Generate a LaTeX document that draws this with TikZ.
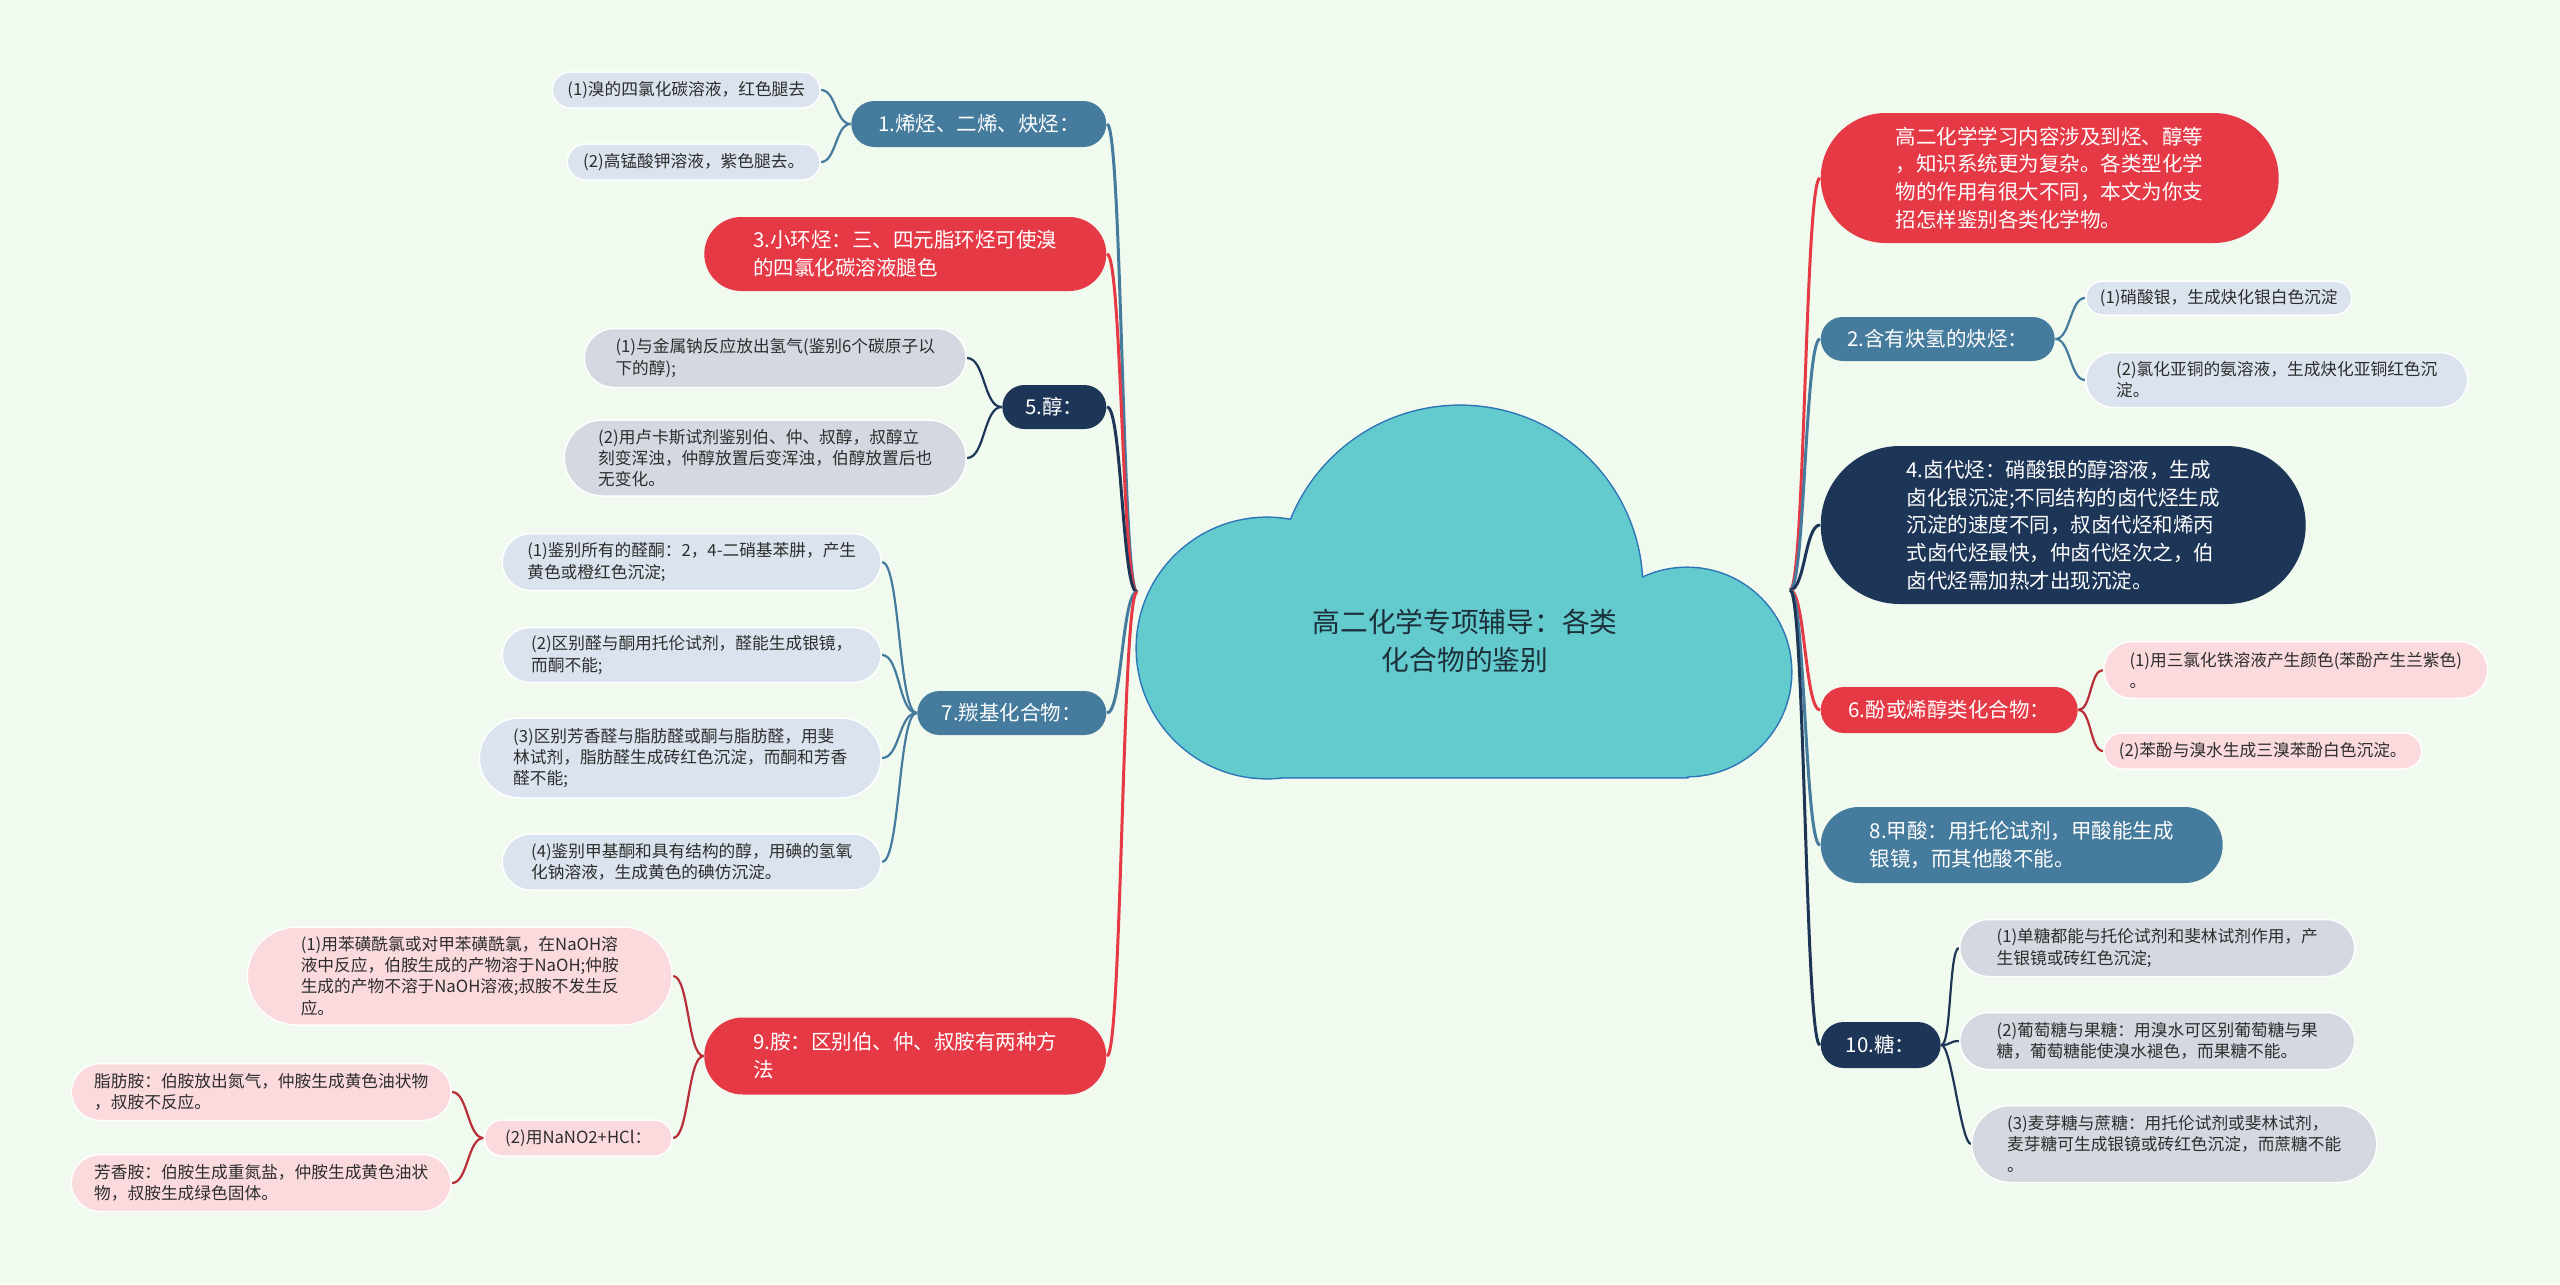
\documentclass[tikz,border=0pt]{standalone}
\usepackage{fontspec}
\newfontfamily\hxcjk{Noto Sans CJK SC}
\usetikzlibrary{calc,backgrounds}
\definecolor{hxbg}{RGB}{241,250,238}
\definecolor{hxcloud}{RGB}{99,202,206}
\definecolor{hxrim}{RGB}{46,117,182}
\definecolor{hxred}{RGB}{230,57,70}
\definecolor{hxblu}{RGB}{69,123,157}
\definecolor{hxnav}{RGB}{29,53,87}
\definecolor{hxlb}{RGB}{219,228,238}
\definecolor{hxlg}{RGB}{212,216,224}
\definecolor{hxlp}{RGB}{251,218,222}
\definecolor{hxtxt}{RGB}{45,45,45}
\definecolor{hxdark}{RGB}{28,48,58}
\newcommand\hxsmall{\hxcjk\fontsize{4.75}{6}\selectfont}
\newcommand\hxmid{\hxcjk\fontsize{5.83}{7.9}\selectfont}
\newcommand\hxbig{\hxcjk\fontsize{7.88}{10.8}\selectfont}
\tikzset{
  hxnode/.style={align=left, inner sep=0pt},
  sz/.style 2 args={minimum width=#1*0.01cm, minimum height=#2*0.01cm, rounded corners=#2*0.005cm},
  topic/.style={hxnode, fill=#1, text=white, font=\hxmid},
  leaf/.style={hxnode, fill=#1, draw=white, line width=0.015cm, text=hxtxt, font=\hxsmall},
  trunk/.style={draw=#1, line width=0.03cm},
  twig/.style={draw=#1, line width=0.022cm},
  sway/.style={to path={.. controls ($(\tikztostart)+(#1,0)$) and ($(\tikztotarget)-(#1,0)$) .. (\tikztotarget)}}
}
\begin{document}
\begin{tikzpicture}[x=0.01cm, y=-0.01cm]
  \useasboundingbox (0,0) rectangle (2560,1284);
  \draw[hxrim, line width=0.03cm] (1267,648) circle[radius=1.3cm] (1460,588) circle[radius=1.82cm]
    (1687,672) circle[radius=1.04cm] (1267,620) rectangle (1687,777);
  \fill[hxcloud] (1267,648) circle[radius=1.3cm] (1460,588) circle[radius=1.82cm]
    (1687,672) circle[radius=1.04cm] (1267,620) rectangle (1687,777);
  \node[font=\hxbig, text=hxdark, align=center] (hub) at (1465,641) {高二化学专项辅导：各类\\化合物的鉴别};
  \coordinate (L) at (1137,592);
  \coordinate (R) at (1790,590);

  \node[topic=hxblu, sz={255}{46}, anchor=east] (n1) at (1107,124) {1.烯烃、二烯、炔烃：};
  \node[topic=hxred, sz={402}{74}, anchor=east] (n3) at (1107,254) {3.小环烃：三、四元脂环烃可使溴\\的四氯化碳溶液腿色};
  \node[topic=hxnav, sz={104}{44}, anchor=east] (n5) at (1107,407) {5.醇：};
  \node[topic=hxblu, sz={189}{44}, anchor=east] (n7) at (1107,713) {7.羰基化合物：};
  \node[topic=hxred, sz={402}{77}, anchor=east] (n9) at (1107,1056) {9.胺：区别伯、仲、叔胺有两种方\\法};

  \node[leaf=hxlb, sz={268}{36}, anchor=east] (n1a) at (821,90) {(1)溴的四氯化碳溶液，红色腿去};
  \node[leaf=hxlb, sz={253}{36}, anchor=east] (n1b) at (821,162) {(2)高锰酸钾溶液，紫色腿去。};
  \node[leaf=hxlg, sz={382}{59}, anchor=east] (n5a) at (967,358) {(1)与金属钠反应放出氢气(鉴别6个碳原子以\\下的醇);};
  \node[leaf=hxlg, sz={402}{76}, anchor=east] (n5b) at (967,458) {(2)用卢卡斯试剂鉴别伯、仲、叔醇，叔醇立\\刻变浑浊，仲醇放置后变浑浊，伯醇放置后也\\无变化。};
  \node[leaf=hxlb, sz={379}{57}, anchor=east] (n7a) at (882,562) {(1)鉴别所有的醛酮：2，4-二硝基苯肼，产生\\黄色或橙红色沉淀;};
  \node[leaf=hxlb, sz={379}{55}, anchor=east] (n7b) at (882,655) {(2)区别醛与酮用托伦试剂，醛能生成银镜，\\而酮不能;};
  \node[leaf=hxlb, sz={402}{80}, anchor=east] (n7c) at (882,758) {(3)区别芳香醛与脂肪醛或酮与脂肪醛，用斐\\林试剂，脂肪醛生成砖红色沉淀，而酮和芳香\\醛不能;};
  \node[leaf=hxlb, sz={379}{56}, anchor=east] (n7d) at (882,862) {(4)鉴别甲基酮和具有结构的醇，用碘的氢氧\\化钠溶液，生成黄色的碘仿沉淀。};
  \node[leaf=hxlp, sz={425}{98}, anchor=east] (n9a) at (673,976) {(1)用苯磺酰氯或对甲苯磺酰氯，在NaOH溶\\液中反应，伯胺生成的产物溶于NaOH;仲胺\\生成的产物不溶于NaOH溶液;叔胺不发生反\\应。};
  \node[leaf=hxlp, sz={188}{36}, anchor=east] (n9b) at (673,1138) {(2)用NaNO2+HCl：};
  \node[leaf=hxlp, sz={380}{57}, anchor=east] (n9c) at (452,1092) {脂肪胺：伯胺放出氮气，仲胺生成黄色油状物\\，叔胺不反应。};
  \node[leaf=hxlp, sz={380}{57}, anchor=east] (n9d) at (452,1183) {芳香胺：伯胺生成重氮盐，仲胺生成黄色油状\\物，叔胺生成绿色固体。};

  \node[topic=hxred, sz={458}{130}, anchor=west] (r0) at (1820,178) {高二化学学习内容涉及到烃、醇等\\，知识系统更为复杂。各类型化学\\物的作用有很大不同，本文为你支\\招怎样鉴别各类化学物。};
  \node[topic=hxblu, sz={234}{44}, anchor=west] (r2) at (1820,339) {2.含有炔氢的炔烃：};
  \node[topic=hxnav, sz={485}{158}, anchor=west] (r4) at (1820,525) {4.卤代烃：硝酸银的醇溶液，生成\\卤化银沉淀;不同结构的卤代烃生成\\沉淀的速度不同，叔卤代烃和烯丙\\式卤代烃最快，仲卤代烃次之，伯\\卤代烃需加热才出现沉淀。};
  \node[topic=hxred, sz={257}{46}, anchor=west] (r6) at (1820,710) {6.酚或烯醇类化合物：};
  \node[topic=hxblu, sz={402}{76}, anchor=west] (r8) at (1820,845) {8.甲酸：用托伦试剂，甲酸能生成\\银镜，而其他酸不能。};
  \node[topic=hxnav, sz={120}{46}, anchor=west] (r10) at (1820,1045) {10.糖：};

  \node[leaf=hxlb, sz={266}{34}, anchor=west] (r2a) at (2085,298) {(1)硝酸银，生成炔化银白色沉淀};
  \node[leaf=hxlb, sz={382}{55}, anchor=west] (r2b) at (2085,380) {(2)氯化亚铜的氨溶液，生成炔化亚铜红色沉\\淀。};
  \node[leaf=hxlp, sz={384}{57}, anchor=west] (r6a) at (2103,670) {(1)用三氯化铁溶液产生颜色(苯酚产生兰紫色)\\。};
  \node[leaf=hxlp, sz={318}{36}, anchor=west] (r6b) at (2103,751) {(2)苯酚与溴水生成三溴苯酚白色沉淀。};
  \node[leaf=hxlg, sz={395}{57}, anchor=west] (r10a) at (1959,948) {(1)单糖都能与托伦试剂和斐林试剂作用，产\\生银镜或砖红色沉淀;};
  \node[leaf=hxlg, sz={395}{57}, anchor=west] (r10b) at (1959,1041) {(2)葡萄糖与果糖：用溴水可区别葡萄糖与果\\糖，葡萄糖能使溴水褪色，而果糖不能。};
  \node[leaf=hxlg, sz={405}{77}, anchor=west] (r10c) at (1971,1144) {(3)麦芽糖与蔗糖：用托伦试剂或斐林试剂，\\麦芽糖可生成银镜或砖红色沉淀，而蔗糖不能\\。};

  \begin{scope}[on background layer]
    \fill[hxbg] (0,0) rectangle (2560,1284);
    \draw[trunk=hxblu, sway=-15] (L) to (n1.east);
    \draw[trunk=hxred, sway=-15] (L) to (n3.east);
    \draw[trunk=hxnav, sway=-15] (L) to (n5.east);
    \draw[trunk=hxblu, sway=-15] (L) to (n7.east);
    \draw[trunk=hxred, sway=-15] (L) to (n9.east);
    \draw[trunk=hxred, sway=15] (R) to (r0.west);
    \draw[trunk=hxblu, sway=15] (R) to (r2.west);
    \draw[trunk=hxnav, sway=15] (R) to (r4.west);
    \draw[trunk=hxred, sway=15] (R) to (r6.west);
    \draw[trunk=hxblu, sway=15] (R) to (r8.west);
    \draw[trunk=hxnav, sway=15] (R) to (r10.west);
    \draw[twig=hxblu, sway=-15] (n1.west) to (n1a.east);
    \draw[twig=hxblu, sway=-15] (n1.west) to (n1b.east);
    \draw[twig=hxnav, sway=-18] (n5.west) to (n5a.east);
    \draw[twig=hxnav, sway=-18] (n5.west) to (n5b.east);
    \draw[twig=hxblu, sway=-18] (n7.west) to (n7a.east);
    \draw[twig=hxblu, sway=-18] (n7.west) to (n7b.east);
    \draw[twig=hxblu, sway=-18] (n7.west) to (n7c.east);
    \draw[twig=hxblu, sway=-18] (n7.west) to (n7d.east);
    \draw[twig=hxred!80!black, sway=-16] (n9.west) to (n9a.east);
    \draw[twig=hxred!80!black, sway=-16] (n9.west) to (n9b.east);
    \draw[twig=hxred!80!black, sway=-16] (n9b.west) to (n9c.east);
    \draw[twig=hxred!80!black, sway=-16] (n9b.west) to (n9d.east);
    \draw[twig=hxblu, sway=15] (r2.east) to (r2a.west);
    \draw[twig=hxblu, sway=15] (r2.east) to (r2b.west);
    \draw[twig=hxred!80!black, sway=13] (r6.east) to (r6a.west);
    \draw[twig=hxred!80!black, sway=13] (r6.east) to (r6b.west);
    \draw[twig=hxnav, sway=10] (r10.east) to (r10a.west);
    \draw[twig=hxnav, sway=10] (r10.east) to (r10b.west);
    \draw[twig=hxnav, sway=10] (r10.east) to (r10c.west);
  \end{scope}
\end{tikzpicture}
\end{document}
